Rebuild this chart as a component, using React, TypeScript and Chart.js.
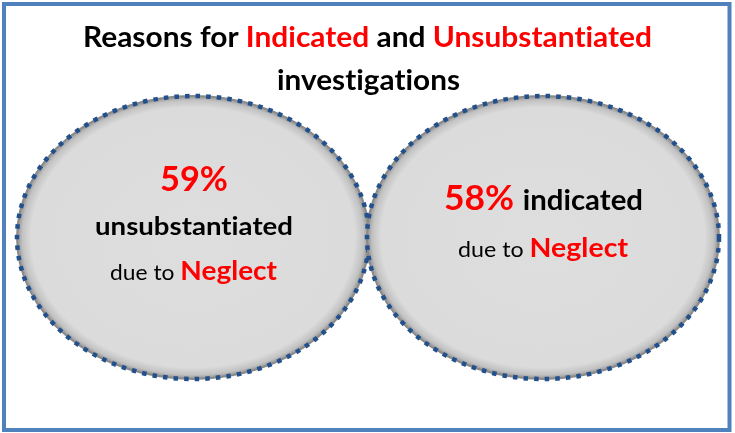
import React, { useEffect, useRef } from "react";
import { Chart, registerables } from "chart.js";

Chart.register(...registerables);

// ---- data ----
const groups = ["Unsubstantiated", "Indicated"];
const outcomeWords = ["unsubstantiated", "indicated"];
const percentages = [59, 58];
const reasons = ["Neglect", "Neglect"];
const wholeShare = [100, 100]; // each ellipse = all investigations of that outcome
const titleSuffix = "investigations";

const RED = "#FF0000";
const BLACK = "#000000";
const FONT = "Lato, 'Open Sans', sans-serif";

type Seg = { text: string; font: string; color: string };

function drawFitted(ctx: CanvasRenderingContext2D, segs: Seg[], cx: number, width: number, baseline: number) {
  const anyCtx = ctx as any;
  const widths = segs.map((s) => {
    ctx.font = s.font;
    anyCtx.letterSpacing = "0.01px";
    return ctx.measureText(s.text).width;
  });
  const total = widths.reduce((a, b) => a + b, 0);
  const sx = width / total;
  let x = cx - width / 2;
  segs.forEach((s, i) => {
    ctx.save();
    ctx.translate(x, baseline);
    ctx.scale(sx, 1);
    ctx.font = s.font;
    anyCtx.letterSpacing = "0.01px";
    ctx.fillStyle = s.color;
    ctx.textAlign = "left";
    ctx.textBaseline = "alphabetic";
    ctx.fillText(s.text, 0, 0);
    ctx.restore();
    x += widths[i] * sx;
  });
  anyCtx.letterSpacing = "0px";
}

const b = (px: number) => `bold ${px}px ${FONT}`;
const r = (px: number) => `${px}px ${FONT}`;

const infographicPlugin = {
  id: "infographic",
  beforeDraw(chart: any) {
    const ctx = chart.ctx as CanvasRenderingContext2D;
    ctx.save();
    ctx.fillStyle = "#FFFFFF";
    ctx.fillRect(0, 0, chart.width, chart.height);
    ctx.restore();
  },
  afterDatasetsDraw(chart: any) {
    const ctx = chart.ctx as CanvasRenderingContext2D;
    const meta = chart.getDatasetMeta(0);
    const centers: { cx: number; cy: number }[] = [];
    meta.data.forEach((bar: any) => {
      const p = bar.getProps(["x", "y", "base", "width"], true);
      const cx = p.x;
      const cy = (p.y + p.base) / 2;
      const rx = p.width / 2 + 1;
      const ry = Math.abs(p.base - p.y) / 2;
      centers.push({ cx, cy });

      // fill with inner shadow
      ctx.save();
      ctx.translate(cx, cy);
      ctx.scale(rx, ry);
      const g = ctx.createRadialGradient(0, 0, 0, 0, 0, 1);
      g.addColorStop(0, "#DEDEDE");
      g.addColorStop(0.92, "#DBDBDB");
      g.addColorStop(0.97, "#C2C2C2");
      g.addColorStop(1, "#909090");
      ctx.beginPath();
      ctx.arc(0, 0, 1, 0, Math.PI * 2);
      ctx.fillStyle = g;
      ctx.fill();
      ctx.restore();

      // dotted border
      ctx.save();
      ctx.beginPath();
      ctx.ellipse(cx, cy, rx, ry, 0, 0, Math.PI * 2);
      ctx.strokeStyle = "#8A8A8A";
      ctx.lineWidth = 2;
      ctx.stroke();
      ctx.setLineDash([4.5, 6.1]);
      ctx.lineCap = "butt";
      ctx.strokeStyle = "#22508C";
      ctx.lineWidth = 4.5;
      ctx.stroke();
      ctx.restore();
    });

    // ellipse texts
    const [L, R] = centers;
    if (L) {
      drawFitted(ctx, [{ text: `${percentages[0]}%`, font: b(35), color: RED }], L.cx + 1, 68, L.cy - 46.5);
      drawFitted(ctx, [{ text: outcomeWords[0], font: b(25), color: BLACK }], L.cx + 1, 198, L.cy - 2.5);
      drawFitted(
        ctx,
        [
          { text: "due to ", font: r(22), color: BLACK },
          { text: reasons[0], font: b(27), color: RED },
        ],
        L.cx + 0.5,
        167,
        L.cy + 42.5
      );
    }
    if (R) {
      drawFitted(
        ctx,
        [
          { text: `${percentages[1]}% `, font: b(35), color: RED },
          { text: outcomeWords[1], font: b(29), color: BLACK },
        ],
        R.cx + 0.5,
        199,
        R.cy - 27.5
      );
      drawFitted(
        ctx,
        [
          { text: "due to ", font: r(22), color: BLACK },
          { text: reasons[1], font: b(27), color: RED },
        ],
        R.cx,
        170,
        R.cy + 19.5
      );
    }

    // title
    const mid = chart.width / 2;
    drawFitted(
      ctx,
      [
        { text: "Reasons for ", font: b(28), color: BLACK },
        { text: groups[1], font: b(28), color: RED },
        { text: " and ", font: b(28), color: BLACK },
        { text: groups[0], font: b(28), color: RED },
      ],
      mid,
      569,
      47
    );
    drawFitted(ctx, [{ text: titleSuffix, font: b(28), color: BLACK }], mid + 1, 183, 90);

    // outer frame
    ctx.save();
    ctx.strokeStyle = "#4F81BD";
    ctx.lineWidth = 4;
    ctx.strokeRect(4, 4, 725.5, 426);
    ctx.restore();
  },
};

export default function App() {
  const canvasRef = useRef<HTMLCanvasElement | null>(null);

  useEffect(() => {
    const canvas = canvasRef.current;
    if (!canvas) return;
    const chart = new Chart(canvas, {
      type: "bar",
      data: {
        labels: groups,
        datasets: [
          {
            data: wholeShare,
            backgroundColor: "rgba(0,0,0,0)",
            borderWidth: 0,
            categoryPercentage: 1,
            barPercentage: 1,
          },
        ],
      },
      options: {
        responsive: false,
        animation: false,
        devicePixelRatio: 1,
        layout: { padding: { left: 18, right: 17, top: 96, bottom: 54 } },
        scales: {
          x: { display: false, offset: true },
          y: { display: false, min: 0, max: 100 },
        },
        plugins: {
          legend: { display: false },
          tooltip: { enabled: false },
          title: { display: false },
        },
        events: [],
      },
      plugins: [infographicPlugin],
    });
    return () => chart.destroy();
  }, []);

  return (
    <div style={{ position: "fixed", left: 0, top: 0, width: 735, height: 433, background: "#fff" }}>
      <canvas ref={canvasRef} width={735} height={433} style={{ display: "block" }} />
    </div>
  );
}
